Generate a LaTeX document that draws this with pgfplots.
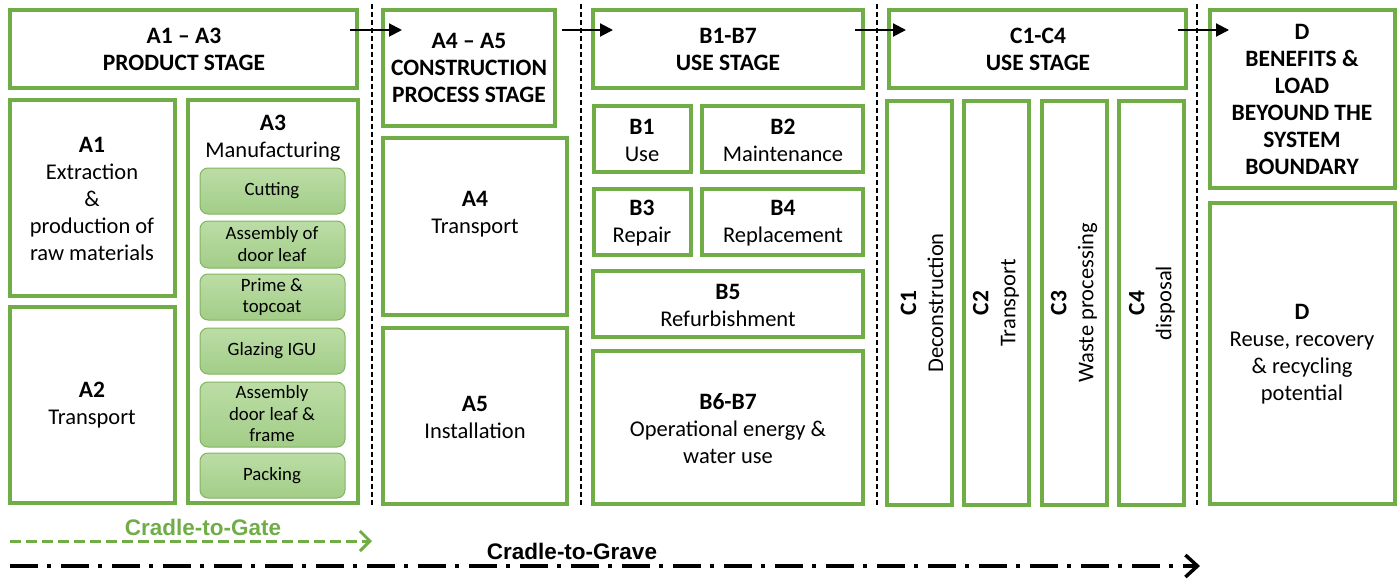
\documentclass[border=0pt]{standalone}
\usepackage{pgfplots}
\pgfplotsset{compat=1.18}
\usepackage{fontspec}
\setmainfont{Carlito}
\newfontfamily\arialfont{Liberation Sans}
\usetikzlibrary{arrows.meta}
\definecolor{bgreen}{HTML}{70AD47}
\definecolor{subtop}{HTML}{BCDDA6}
\definecolor{subbot}{HTML}{A2CD87}
\definecolor{subedge}{HTML}{82B463}
\newcommand{\gbox}[4]{\draw[bgreen, line width=3.5pt] (axis cs:#1,#2) rectangle (axis cs:#3,#4);}
\newcommand{\subbox}[4]{\draw[subedge, line width=1pt, rounded corners=8pt, top color=subtop, bottom color=subbot] (axis cs:#1,#2) rectangle (axis cs:#3,#4);}
\newcommand{\vsep}[1]{\draw[black, line width=1.8pt, dash pattern=on 5pt off 3pt] (axis cs:#1,4) -- (axis cs:#1,506);}
\newcommand{\harrow}[2]{\draw[black, line width=2pt, -{Triangle[length=13pt,width=13pt]}] (axis cs:#1,30) -- (axis cs:#2,30);}
\tikzset{txt/.style={align=center, inner sep=0pt, font=\fontsize{22.5}{27}\selectfont},
         stxt/.style={align=center, inner sep=0pt, font=\fontsize{18.8}{21.5}\selectfont}}
\newcommand{\hb}[1]{{\fontsize{23.5}{27}\selectfont\bfseries #1}}
\begin{document}
\begin{tikzpicture}
\begin{axis}[hide axis, scale only axis, width=1399pt, height=574pt,
  xmin=0, xmax=1399, ymin=0, ymax=574, y dir=reverse, clip=false]
\path (axis cs:0,0) rectangle (axis cs:1399,574);
% dashed separators
\vsep{372}\vsep{581}\vsep{877}\vsep{1197}
% A boxes
\gbox{10}{10}{357}{88}
\gbox{10}{100}{175}{296}
\gbox{10}{307}{175}{503}
\gbox{188}{100}{358}{503}
\subbox{200}{168}{345}{214}
\subbox{200}{221}{345}{268}
\subbox{200}{274}{345}{320}
\subbox{200}{328}{345}{374}
\subbox{200}{382}{345}{447}
\subbox{200}{453}{345}{498}
\gbox{383}{10}{555}{126}
\gbox{383}{138}{567}{315}
\gbox{383}{328}{567}{504}
% B boxes
\gbox{593}{10}{863}{88}
\gbox{594}{106}{691}{172}
\gbox{702}{106}{863}{172}
\gbox{594}{189}{691}{255}
\gbox{702}{189}{863}{255}
\gbox{593}{271}{863}{337}
\gbox{593}{351}{863}{504}
% C boxes
\gbox{889}{10}{1186}{88}
\gbox{887}{101}{952}{505}
\gbox{964}{101}{1029}{505}
\gbox{1042}{101}{1107}{505}
\gbox{1119}{101}{1184}{505}
% D boxes
\gbox{1210}{10}{1395}{188}
\gbox{1210}{203}{1395}{504}
% arrows
\harrow{350}{402}\harrow{562}{613}\harrow{855}{906}\harrow{1178}{1229}
% texts
\node[txt] at (axis cs:184,49) {\hb{A1 – A3}\\\hb{PRODUCT STAGE}};
\node[txt] at (axis cs:92,199) {\hb{A1}\\Extraction\\\&\\production of\\raw materials};
\node[txt] at (axis cs:92,405) {\hb{A2}\\Transport};
\node[txt] at (axis cs:273,138) {\hb{A3}\\Manufacturing};
\node[stxt] at (axis cs:272,191) {Cutting};
\node[stxt] at (axis cs:272,244) {Assembly of\\door leaf};
\node[stxt] at (axis cs:272,297) {Prime \&\\topcoat};
\node[stxt] at (axis cs:272,351) {Glazing IGU};
\node[stxt] at (axis cs:272,414) {Assembly\\door leaf \&\\frame};
\node[stxt] at (axis cs:272,476) {Packing};
\node[txt] at (axis cs:469,68) {\hb{A4 – A5}\\\hb{CONSTRUCTION}\\\hb{PROCESS STAGE}};
\node[txt] at (axis cs:475,214) {\hb{A4}\\Transport};
\node[txt] at (axis cs:475,417) {\hb{A5}\\Installation};
\node[txt] at (axis cs:728,49) {\hb{B1-B7}\\\hb{USE STAGE}};
\node[txt] at (axis cs:642,140) {\hb{B1}\\Use};
\node[txt] at (axis cs:783,140) {\hb{B2}\\Maintenance};
\node[txt] at (axis cs:642,223) {\hb{B3}\\Repair};
\node[txt] at (axis cs:783,223) {\hb{B4}\\Replacement};
\node[txt] at (axis cs:728,305) {\hb{B5}\\Refurbishment};
\node[txt] at (axis cs:728,429) {\hb{B6-B7}\\Operational energy \&\\water use};
\node[txt] at (axis cs:1038,49) {\hb{C1-C4}\\\hb{USE STAGE}};
\node[txt, rotate=90] at (axis cs:922,303) {\hb{C1}\\Deconstruction};
\node[txt, rotate=90] at (axis cs:996,303) {\hb{C2}\\Transport};
\node[txt, rotate=90] at (axis cs:1074,303) {\hb{C3}\\Waste processing};
\node[txt, rotate=90] at (axis cs:1152,303) {\hb{C4}\\disposal};
\node[txt] at (axis cs:1302,99) {\hb{D}\\\hb{BENEFITS \&}\\\hb{LOAD}\\\hb{BEYOUND THE}\\\hb{SYSTEM}\\\hb{BOUNDARY}};
\node[txt] at (axis cs:1302,354) {\hb{D}\\Reuse, recovery\\\& recycling\\potential};
% lifecycle arrows
\node[inner sep=0pt, text=bgreen, font=\arialfont\bfseries\fontsize{22.5}{24}\selectfont] at (axis cs:203,527) {Cradle-to-Gate};
\draw[bgreen, line width=3pt, dash pattern=on 11pt off 5pt, -{Straight Barb[length=10pt,width=20pt,line width=3pt]}] (axis cs:10,541) -- (axis cs:372,541);
\node[inner sep=0pt, font=\arialfont\bfseries\fontsize{22.5}{24}\selectfont] at (axis cs:572,551) {Cradle-to-Grave};
\draw[black, line width=4pt, dash pattern=on 28pt off 9pt on 4pt off 10pt, -{Straight Barb[length=12pt,width=22pt,line width=3.5pt]}] (axis cs:10,566) -- (axis cs:1200,566);
\end{axis}
\end{tikzpicture}
\end{document}
